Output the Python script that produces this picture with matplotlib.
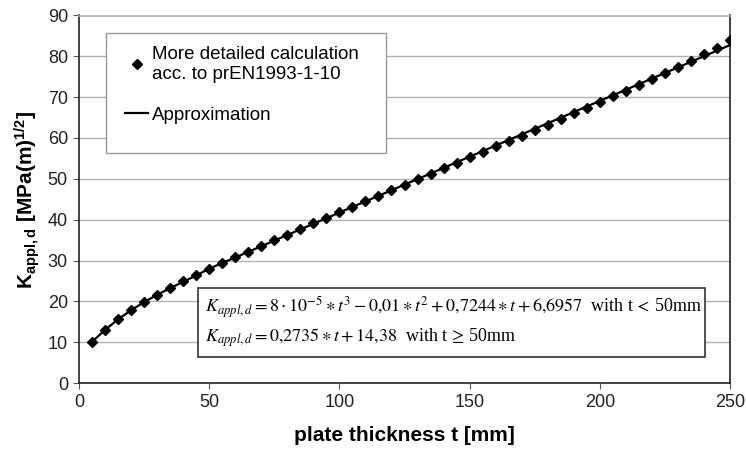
import matplotlib.pyplot as plt
import matplotlib.lines as mlines

plt.rcParams['font.family'] = ['Liberation Sans', 'DejaVu Sans']
plt.rcParams['mathtext.fontset'] = 'custom'
plt.rcParams['mathtext.rm'] = 'Liberation Sans:bold'
plt.rcParams['mathtext.bf'] = 'Liberation Sans:bold'
plt.rcParams['mathtext.it'] = 'Liberation Sans:bold'

# plate thickness [mm]
thickness = [5, 10, 15, 20, 25, 30, 35, 40, 45, 50,
             55, 60, 65, 70, 75, 80, 85, 90, 95, 100,
             105, 110, 115, 120, 125, 130, 135, 140, 145, 150,
             155, 160, 165, 170, 175, 180, 185, 190, 195, 200,
             205, 210, 215, 220, 225, 230, 235, 240, 245, 250]
# more detailed calculation acc. to prEN1993-1-10
k_detailed = [10.1, 13.1, 15.6, 17.9, 19.9, 21.6, 23.3, 24.9, 26.4, 28.0,
              29.5, 30.9, 32.2, 33.6, 35.0, 36.3, 37.7, 39.1, 40.4, 41.8,
              43.1, 44.5, 45.8, 47.2, 48.5, 49.9, 51.2, 52.6, 53.9, 55.3,
              56.6, 58.0, 59.3, 60.6, 62.0, 63.3, 64.7, 66.0, 67.4, 68.8,
              70.2, 71.6, 73.0, 74.5, 75.9, 77.4, 78.9, 80.5, 82.1, 84.0]
# approximation line
t_approx = [5, 10, 15, 20, 25, 30, 35, 40, 45, 50, 100, 150, 200, 250]
k_approx = [10.08, 13.02, 15.58, 17.82, 19.81, 21.59, 23.23, 24.79, 26.33, 28.0,
            41.73, 55.41, 69.08, 82.76]

W, H = 746, 453
fig = plt.figure(figsize=(W / 100, H / 100), dpi=100)
ax = fig.add_axes([79 / W, 1 - 383 / H, (730 - 79) / W, (383 - 15.5) / H])

ax.plot(t_approx, k_approx, color='black', lw=1.6, zorder=3)
ax.plot(thickness, k_detailed, ls='none', marker='D', ms=5, color='black', zorder=4)

ax.set_xlim(0, 250)
ax.set_ylim(0, 90)
ax.set_xticks(range(0, 251, 50))
ax.set_yticks(range(0, 91, 10))
ax.yaxis.grid(True, color='#b0b0b0', lw=1)
ax.set_axisbelow(True)
for s in ax.spines.values():
    s.set_color('#222222')
    s.set_linewidth(1.2)
ax.spines['top'].set_color('#b0b0b0')
ax.tick_params(labelsize=13, length=4, color='#555555', pad=4, labelcolor='#222222')

ax.set_xlabel('plate thickness t [mm]', fontsize=15, fontweight='bold', labelpad=11)
ax.set_ylabel(r'K$_{appl,d}$ [MPa(m)$^{1/2}$]', fontsize=15, fontweight='bold', labelpad=4)

# legend (frame drawn separately)
h1 = mlines.Line2D([], [], ls='none', marker='D', ms=5, color='black')
h2 = mlines.Line2D([], [], color='black', lw=1.6)
leg = ax.legend([h1, h2], ['More detailed calculation\nacc. to prEN1993-1-10', 'Approximation'],
                loc='upper left', bbox_to_anchor=(125 / W, 1 - 46 / H),
                bbox_transform=fig.transFigure, fontsize=13.5, frameon=False,
                borderpad=0, labelspacing=1.27, handlelength=1.25,
                handletextpad=0.2, borderaxespad=0)
leg.set_zorder(6)
leg_frame = plt.Rectangle((106 / W, 1 - 153 / H), (386 - 106) / W, (153 - 33) / H,
                          transform=fig.transFigure, facecolor='white', edgecolor='#999999',
                          lw=1.0, zorder=5)
ax.add_artist(leg_frame)
leg_frame.set_clip_on(False)

# formula box
f1 = (r'$K_{appl,d} = 8 \cdot 10^{-5} \ast t^3 - 0{,}01 \ast t^2 + 0{,}7244 \ast t + 6{,}6957$'
      r'  with t$\,<\,$50mm')
f2 = r'$K_{appl,d} = 0{,}2735 \ast t + 14{,}38$  with t$\,\geq\,$50mm'
fig.text(205 / W, 1 - 307 / H, f1, fontsize=13, family='Liberation Serif',
         math_fontfamily='stix', va='center', ha='left', zorder=6)
fig.text(205 / W, 1 - 338 / H, f2, fontsize=13, family='Liberation Serif',
         math_fontfamily='stix', va='center', ha='left', zorder=6)
box = plt.Rectangle((198 / W, 1 - 357 / H), (705 - 198) / W, (357 - 288) / H,
                    transform=fig.transFigure, facecolor='white', edgecolor='#333333',
                    lw=1.2, zorder=5)
fig.add_artist(box)

fig.savefig('out.png', dpi=100)
